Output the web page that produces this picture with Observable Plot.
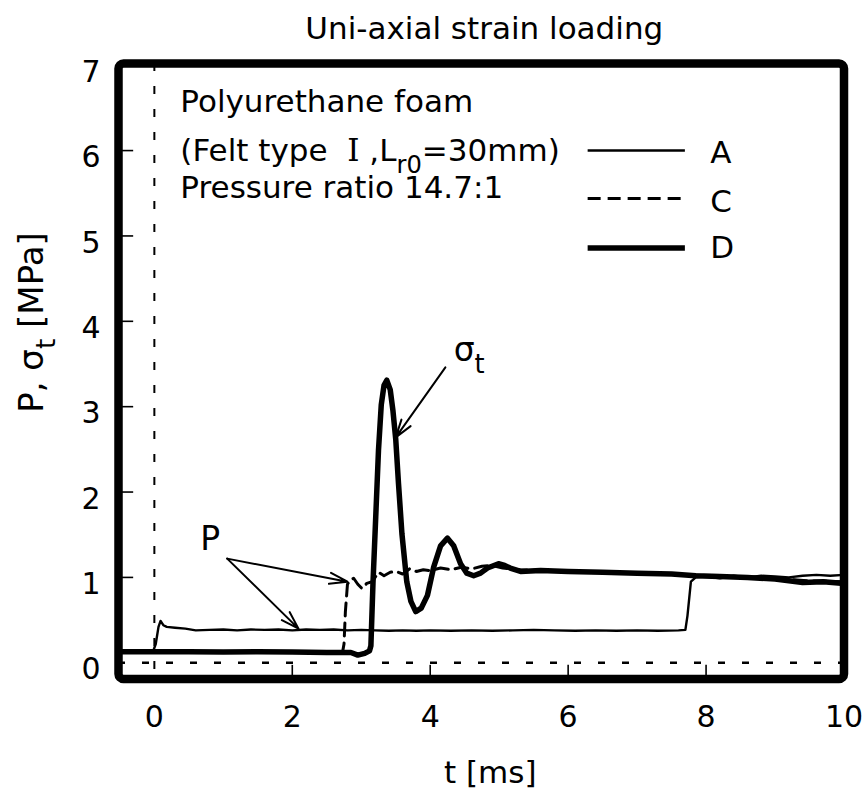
<!DOCTYPE html>
<html><head><meta charset="utf-8">
<script src="https://cdn.jsdelivr.net/npm/d3@7"></script>
<script src="https://cdn.jsdelivr.net/npm/@observablehq/plot@0.6"></script>
<style>
html,body{margin:0;padding:0;background:#fff;}
svg{display:block;}
</style>
</head><body><div id="chart"></div>
<script>
// ---------- data ----------
const seriesNames = ["A", "C", "D"];
// [t (ms), value (MPa)]
const seriesA = [
  [-0.52,0.13],[-0.02,0.13],[0.02,0.22],[0.06,0.42],[0.09,0.49],[0.13,0.44],[0.18,0.42],[0.3,0.41],
  [0.45,0.40],[0.6,0.38],[0.8,0.385],[1.0,0.39],[1.2,0.38],[1.4,0.39],[1.6,0.385],[1.8,0.39],
  [2.0,0.38],[2.2,0.39],[2.4,0.385],[2.6,0.39],[2.8,0.38],[3.0,0.385],[3.2,0.38],[3.4,0.375],
  [3.6,0.38],[3.8,0.375],[4.0,0.38],[4.3,0.375],[4.6,0.38],[4.9,0.375],[5.2,0.38],[5.5,0.385],
  [5.8,0.38],[6.1,0.375],[6.4,0.38],[6.7,0.375],[7.0,0.38],[7.3,0.375],[7.6,0.38],[7.70,0.385],
  [7.73,0.55],[7.78,0.95],[7.85,1.0],[8.0,1.01],[8.2,0.99],[8.4,1.02],[8.6,1.0],[8.8,1.02],
  [9.0,1.01],[9.2,1.0],[9.4,1.02],[9.6,1.03],[9.8,1.02],[10.0,1.03]
];
const seriesC = [
  [-0.52,0.13],[2.0,0.13],[2.73,0.13],[2.75,0.22],[2.77,0.6],[2.80,0.92],[2.84,0.97],[2.89,0.99],
  [2.95,0.92],[3.01,0.87],[3.08,0.93],[3.16,0.95],[3.25,1.06],[3.33,1.02],[3.42,1.06],[3.5,1.07],
  [3.6,1.04],[3.7,1.1],[3.8,1.07],[3.9,1.09],[4.0,1.08],[4.15,1.11],[4.3,1.09],[4.45,1.12],
  [4.6,1.10],[4.75,1.13],[4.9,1.14],[5.05,1.11],[5.3,1.09],[5.6,1.08],[6.0,1.07],[6.5,1.06],
  [7.0,1.05],[7.5,1.04],[8.0,1.02],[8.5,1.0],[9.0,0.99],[9.5,0.96],[10.0,0.95]
];
const seriesD = [
  [-0.52,0.13],[0.5,0.13],[1.0,0.125],[1.5,0.13],[2.0,0.125],[2.5,0.12],[2.85,0.12],[2.95,0.09],
  [3.05,0.11],[3.12,0.14],[3.14,0.2],[3.17,0.93],[3.21,1.71],[3.25,2.49],[3.29,3.02],[3.33,3.25],
  [3.37,3.31],[3.42,3.2],[3.46,2.95],[3.50,2.62],[3.54,2.10],[3.59,1.51],[3.66,0.95],[3.72,0.72],
  [3.79,0.60],[3.87,0.64],[3.96,0.79],[4.05,1.12],[4.15,1.37],[4.25,1.46],[4.34,1.37],[4.44,1.16],
  [4.53,1.05],[4.63,1.02],[4.73,1.05],[4.83,1.11],[4.99,1.16],[5.08,1.14],[5.16,1.11],[5.31,1.07],
  [5.6,1.08],[6.0,1.07],[6.5,1.06],[7.0,1.05],[7.5,1.04],[7.85,1.02],[8.2,1.01],[8.6,1.0],
  [9.0,0.98],[9.2,0.96],[9.4,0.94],[9.7,0.95],[10.0,0.93]
];

const xTicks = [0, 2, 4, 6, 8, 10];
const yTicks = [0, 1, 2, 3, 4, 5, 6, 7];
const xTickMarks = [2, 4, 6, 8];
const yTickMarks = [1, 2, 3, 4, 5, 6];

const titleText = "Uni-axial strain loading";
const xLabelText = "t [ms]";
const yLabelText = "P, σ_{t} [MPa]";
const noteLines = ["Polyurethane foam", "(Felt type\u00a0\u00a0|I|\u00a0,L_{r0}=30mm)", "Pressure ratio 14.7:1"];

// annotations: label P with arrows, label sigma_t with arrow ([t, value])
const pLabel = {text: "P", at: [0.667, 1.32]};
const pArrows = [[[1.056, 1.22], [2.80, 0.95]], [[1.056, 1.22], [2.09, 0.40]]];
const sLabel = {text: "σ_{t}", at: [4.34, 3.54]};
const sArrows = [[[4.22, 3.46], [3.50, 2.64]]];

// ---------- layout ----------
const W = 868, H = 795;
const X_DOMAIN = [-0.52, 10.0], Y_DOMAIN = [-0.19, 7.02];
const FONT = "DejaVu Sans";
const NOTE_X = 0.377, NOTE_Y = [6.45, 5.88, 5.44];
const LEG_X1 = 6.29, LEG_X2 = 7.70, LEG_LABEL_X = 8.06;
const LEG_LINE_Y = [6.0, 5.44, 4.86], LEG_LABEL_Y = [5.86, 5.28, 4.74];
const styles = {
  A: {strokeWidth: 2.4, strokeDasharray: null},
  C: {strokeWidth: 3, strokeDasharray: "13,7"},
  D: {strokeWidth: 5.5, strokeDasharray: null}
};

const toRows = (arr) => arr.map(([t, v]) => ({t, v}));
const series = {A: toRows(seriesA), C: toRows(seriesC), D: toRows(seriesD)};
const arrowRows = (arr) => arr.map(([[a, b], [c, d]]) => ({x1: a, y1: b, x2: c, y2: d}));

const marks = [
  Plot.ruleX([0], {strokeDasharray: "8,15", strokeWidth: 2}),
  Plot.ruleY([0], {strokeDasharray: "7,17", strokeWidth: 2.5}),
];
for (const k of seriesNames) {
  marks.push(Plot.line(series[k], {x: "t", y: "v", stroke: "black", strokeWidth: styles[k].strokeWidth,
    strokeDasharray: styles[k].strokeDasharray, strokeLinejoin: "round"}));
}
// legend
seriesNames.forEach((k, i) => {
  marks.push(Plot.ruleY([LEG_LINE_Y[i]], {x1: () => LEG_X1, x2: () => LEG_X2, stroke: "black",
    strokeWidth: styles[k].strokeWidth, strokeDasharray: styles[k].strokeDasharray}));
  marks.push(Plot.text([k], {text: d => d, x: () => LEG_LABEL_X, y: () => LEG_LABEL_Y[i],
    textAnchor: "start", lineAnchor: "bottom", fontSize: 31}));
});
// notes
marks.push(Plot.text(noteLines, {text: d => d, x: () => NOTE_X, y: (d, i) => NOTE_Y[i],
  textAnchor: "start", lineAnchor: "bottom", fontSize: 31}));
// annotations
marks.push(Plot.arrow(arrowRows(pArrows), {x1: "x1", y1: "y1", x2: "x2", y2: "y2", bend: 0,
  headLength: 14, headAngle: 35, strokeWidth: 2, stroke: "black"}));
marks.push(Plot.arrow(arrowRows(sArrows), {x1: "x1", y1: "y1", x2: "x2", y2: "y2", bend: 0,
  headLength: 14, headAngle: 35, strokeWidth: 2, stroke: "black"}));
marks.push(Plot.text([pLabel, sLabel], {text: "text", x: d => d.at[0], y: d => d.at[1],
  textAnchor: "start", lineAnchor: "bottom", fontSize: 33}));
// inner ticks
marks.push(Plot.ruleX(xTickMarks, {y1: () => Y_DOMAIN[0], y2: () => -0.03, strokeWidth: 1.6}));
marks.push(Plot.ruleY(yTickMarks, {x1: () => X_DOMAIN[0], x2: () => -0.30, strokeWidth: 1.6}));
// axes
marks.push(Plot.axisX(xTicks, {tickSize: 0, tickPadding: 27, fontSize: 30, label: null, tickFormat: d => String(d)}));
marks.push(Plot.axisY(yTicks, {tickSize: 0, tickPadding: 18, fontSize: 30, label: null, dy: 7, tickFormat: d => String(d)}));
// frame
marks.push(Plot.frame({stroke: "black", strokeWidth: 8.5, rx: 5}));
// titles
marks.push(Plot.text([titleText], {text: d => d, frameAnchor: "top", dx: 3, dy: -25, lineAnchor: "bottom", fontSize: 31}));
marks.push(Plot.text([xLabelText], {text: d => d, frameAnchor: "bottom", dx: 9, dy: 103.5, lineAnchor: "bottom", fontSize: 31}));
marks.push(Plot.text([yLabelText], {text: d => d, frameAnchor: "left", dx: -76, dy: -48.75, rotate: -90,
  textAnchor: "middle", lineAnchor: "bottom", fontSize: 34}));

const svg = Plot.plot({
  width: W, height: H,
  marginLeft: 118, marginRight: 24.5, marginTop: 63, marginBottom: 116.5,
  x: {domain: X_DOMAIN},
  y: {domain: Y_DOMAIN},
  style: {fontFamily: FONT, background: "white", color: "black", overflow: "visible"},
  marks
});
document.getElementById("chart").appendChild(svg);

// rich text: _{...} subscript, |...| serif glyph
function richText(root) {
  const NS = "http://www.w3.org/2000/svg";
  root.querySelectorAll("text").forEach(el => {
    const s = el.textContent;
    if (!/_\{|\|/.test(s)) return;
    const fs = parseFloat(getComputedStyle(el).fontSize);
    while (el.firstChild) el.removeChild(el.firstChild);
    const parts = s.split(/(_\{[^}]*\}|\|[^|]*\|)/).filter(p => p !== "");
    let shifted = false;
    const shift = fs * 0.38;
    for (const p of parts) {
      const ts = document.createElementNS(NS, "tspan");
      if (p.startsWith("_{")) {
        ts.textContent = p.slice(2, -1);
        ts.setAttribute("font-size", fs * 0.78);
        ts.setAttribute("dy", shift);
        shifted = true;
      } else {
        if (p.startsWith("|")) {
          ts.textContent = p.slice(1, -1);
          ts.setAttribute("font-family", "DejaVu Serif");
        } else ts.textContent = p;
        if (shifted) { ts.setAttribute("dy", -shift); shifted = false; }
      }
      el.appendChild(ts);
    }
  });
}
richText(svg);
</script>
</body></html>
